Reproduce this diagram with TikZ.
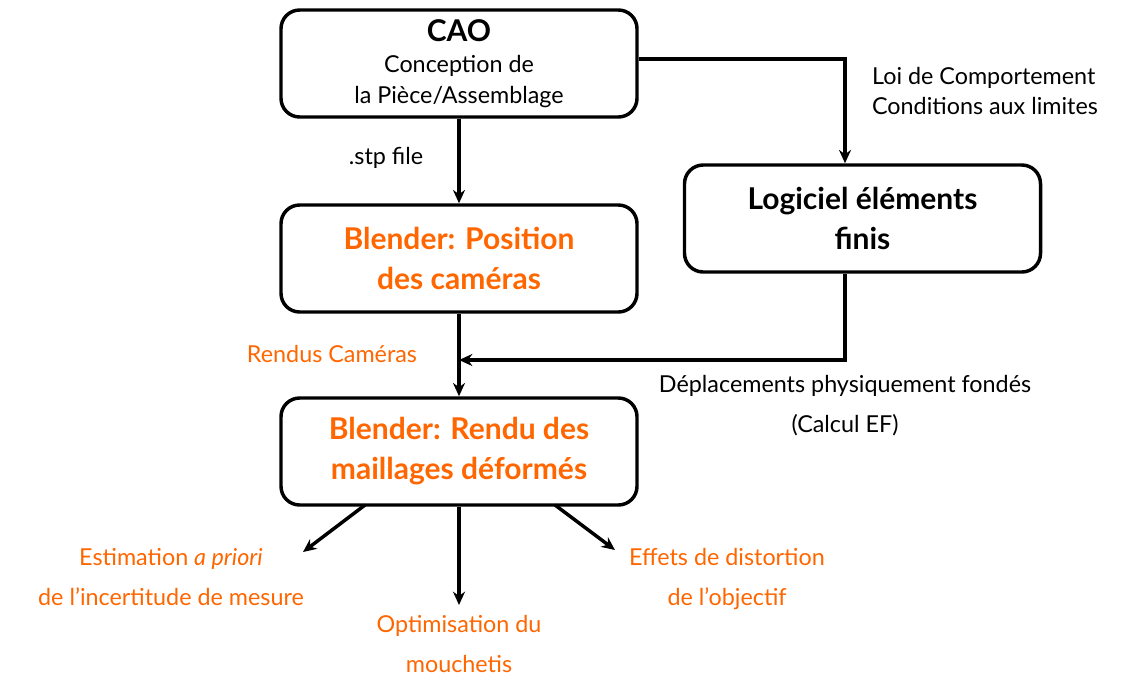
\documentclass[tikz,border=0pt]{standalone}
\usepackage{fontspec}
\setmainfont{Lato}
\usetikzlibrary{arrows.meta}
\definecolor{orng}{HTML}{FF6600}
\begin{document}
\begin{tikzpicture}[x=0.75pt,y=-0.75pt,
  box/.style={draw,line width=2.6pt,rounded corners=14pt,minimum width=356*0.75pt,minimum height=107*0.75pt,align=center,inner sep=2pt},
  arr/.style={line width=2.6pt,-{Stealth[length=10pt,width=9pt]}},
  lab/.style={font=\fontsize{17.5}{30}\selectfont,align=center},
  olab/.style={lab,text=orng},
  ttl/.style={font=\fontsize{22.5}{30}\selectfont\bfseries}]
\useasboundingbox (0,0) rectangle (1126,694);
\node[box,font=\fontsize{17.5}{23}\selectfont] (cao) at (459,63.5) {{\fontsize{22.5}{23}\selectfont\bfseries CAO}\\Conception de\\la Pièce/Assemblage};
\node[box,ttl,text=orng] (pos) at (459,258.5) {Blender: Position\\des caméras};
\node[box,ttl] (fe) at (862.5,218.5) {Logiciel éléments\\finis};
\node[box,ttl,text=orng] (ren) at (459,451.5) {Blender: Rendu des\\maillages déformés};
\coordinate (c1) at (845,59);
\coordinate (c2) at (845,360);
\coordinate (c3) at (459,360);
\coordinate (e1) at (303,552);
\coordinate (e2) at (459,605);
\coordinate (e3) at (615,550);
\draw[arr] (cao) -- (pos);
\draw[arr] (cao.east |- c1) -- (c1) -- (fe.north -| c1);
\draw[arr] (pos) -- (ren);
\draw[arr] (fe.south -| c2) -- (c2) -- (c3);
\draw[arr] (365,505) -- (e1);
\draw[arr] (ren.south) -- (e2);
\draw[arr] (555,505) -- (e3);
\node[lab] (l1) at (386,158) {.stp file};
\node[lab,align=left,font=\fontsize{17.5}{22}\selectfont] (l2) at (985,91) {Loi de Comportement\\Conditions aux limites};
\node[olab] (l3) at (332,354) {Rendus Caméras};
\node[lab] (l4) at (845,406) {Déplacements physiquement fondés\\(Calcul EF)};
\node[olab] (l5) at (171,577) {Estimation \textit{a priori}\\de l'incertitude de mesure};
\node[olab] (l6) at (459,644) {Optimisation du\\mouchetis};
\node[olab] (l7) at (727,579) {Effets de distortion\\de l'objectif};
\end{tikzpicture}
\end{document}
